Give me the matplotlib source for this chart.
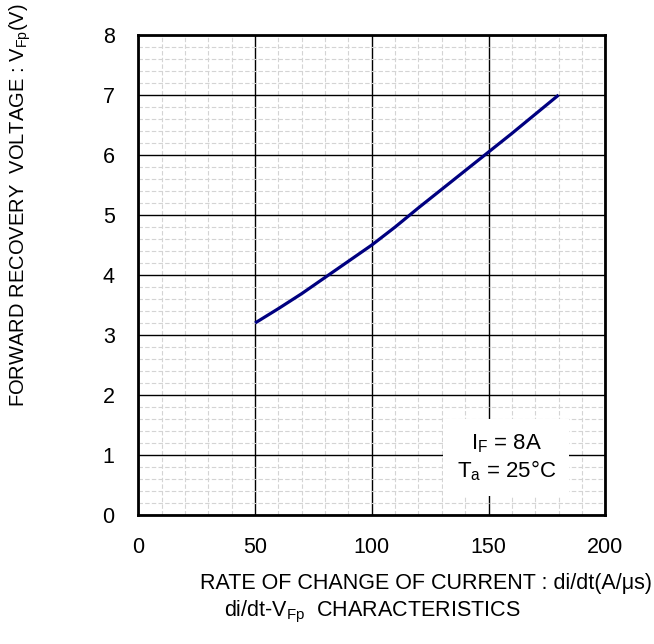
import numpy as np
import matplotlib
matplotlib.use("Agg")
import matplotlib.pyplot as plt
from matplotlib.ticker import MultipleLocator

plt.rcParams['font.family'] = ['Liberation Sans', 'DejaVu Sans']
plt.rcParams['mathtext.fontset'] = 'custom'
plt.rcParams['mathtext.rm'] = 'Liberation Sans'
plt.rcParams['mathtext.it'] = 'Liberation Sans:italic'

# di/dt (A/us) vs forward recovery voltage (V)
didt = [50, 60, 70, 80, 90, 100, 110, 120, 130, 140, 150, 160, 170, 180]
vfp = [3.2, 3.44, 3.69, 3.96, 4.23, 4.5, 4.8, 5.12, 5.43, 5.74, 6.05, 6.36, 6.68, 7.0]

xticks = [0, 50, 100, 150, 200]
yticks = [0, 1, 2, 3, 4, 5, 6, 7, 8]

fs = 15.5
fig = plt.figure(figsize=(6.54, 6.44), dpi=100)
ax = fig.add_axes([0.2115, 0.2003, 0.714, 0.7453])

ax.set_xlim(0, 200)
ax.set_ylim(0, 8)
ax.set_xticks(xticks)
ax.set_yticks(yticks)
ax.xaxis.set_minor_locator(MultipleLocator(10))
ax.yaxis.set_minor_locator(MultipleLocator(0.2))
ax.grid(which='minor', color='#d4d4d4', linestyle=(0, (4, 2)), linewidth=0.8)
ax.grid(which='major', color='black', linestyle='-', linewidth=1.0)
ax.set_axisbelow(True)
ax.tick_params(which='both', length=0)
ax.tick_params(axis='x', pad=16, labelsize=fs)
ax.tick_params(axis='y', pad=17, labelsize=fs)
for s in ax.spines.values():
    s.set_linewidth(2.0)

ax.plot(didt, vfp, color='#000080', linewidth=2.3, solid_capstyle='butt', zorder=5)

ax.text(157.6, 0.96, '$\\mathrm{I_F}$ = 8A\n$\\mathrm{T_a}$ = 25°C', fontsize=16,
        ha='center', va='center', linespacing=1.2, zorder=6,
        bbox=dict(boxstyle='square,pad=0.6', facecolor='white', edgecolor='none'))

fig.text(426 / 654, 1 - 583 / 644, 'RATE OF CHANGE OF CURRENT : di/dt(A/μs)',
         fontsize=fs, ha='center', va='center')
fig.text(372 / 654, 1 - 612 / 644, 'di/dt-V$_{\\mathrm{Fp}}$  CHARACTERISTICS',
         fontsize=fs, ha='center', va='center')
fig.text(20 / 654, 1 - 3 / 644, 'FORWARD RECOVERY  VOLTAGE : V$_{\\mathrm{Fp}}$(V)',
         fontsize=14.5, ha='center', va='top', rotation=90)

fig.savefig('out.png', dpi=100)
